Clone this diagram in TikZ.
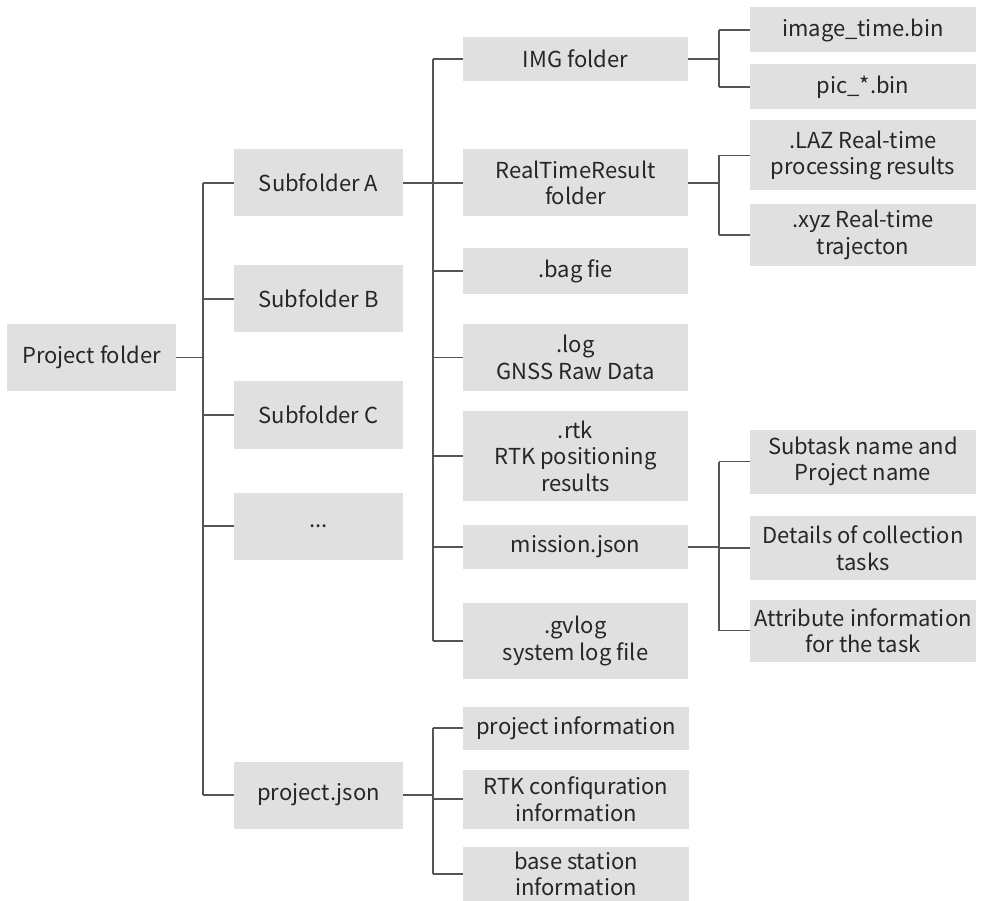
\documentclass[tikz,border=0pt]{standalone}
\usepackage{fontspec}
\setmainfont{Noto Sans CJK SC}
\definecolor{pfFill}{HTML}{E0E0E0}
\definecolor{pfLine}{HTML}{555555}
\definecolor{pfText}{HTML}{262626}
\begin{document}
\begin{tikzpicture}[x=1pt, y=-1pt,
    pfBox/.style={rectangle, fill=pfFill, text=pfText, inner sep=0pt, align=center,
      font=\fontsize{22}{26.5}\selectfont},
    pfL1/.style={pfBox, minimum width=169pt, minimum height=67pt},
    pfL2/.style={pfBox, minimum width=225pt},
    pfL3/.style={pfBox, minimum width=226pt},
    pfTree/.style={draw=pfLine, line width=1.2pt},
]
\useasboundingbox (0,0) rectangle (983,901);
% Root and first level
\node[pfL1] (proj) at (91.5,357.5) {Project folder};
\node[pfL1] (subA) at (318.5,183) {Subfolder A};
\node[pfL1] (subB) at (318.5,299) {Subfolder B};
\node[pfL1] (subC) at (318.5,415) {Subfolder C};
\node[pfL1] (dots) at (318.5,526) {...};
\node[pfL1] (pjson) at (318.5,795) {project.json};
% Contents of Subfolder A
\node[pfL2, minimum height=44pt] (img) at (575.5,59) {IMG folder};
\node[pfL2, minimum height=67pt] (rtr) at (575.5,183) {RealTimeResult\\folder};
\node[pfL2, minimum height=46pt] (bag) at (575.5,271) {.bag fie};
\node[pfL2, minimum height=67pt] (glog) at (575.5,357.5) {.log\\GNSS Raw Data};
\node[pfL2, minimum height=90pt] (rtk) at (575.5,456) {.rtk\\RTK positioning\\results};
\node[pfL2, minimum height=44pt] (miss) at (575.5,547) {mission.json};
\node[pfL2, minimum height=76pt] (gvlog) at (575.5,641) {.gvlog\\system log file};
% Third level
\node[pfL3, minimum height=45pt] (imgt) at (863,30) {image\_time.bin};
\node[pfL3, minimum height=45pt] (pic) at (863,87) {pic\_*.bin};
\node[pfL3, minimum height=70pt] (laz) at (863,155.5) {.LAZ Real-time\\processing results};
\node[pfL3, minimum height=62pt] (xyz) at (863,235) {.xyz Real-time\\trajecton};
\node[pfL3, minimum height=64pt] (subt) at (863,461.5) {Subtask name and\\Project name};
\node[pfL3, minimum height=64pt] (det) at (863,548) {Details of collection\\tasks};
\node[pfL3, minimum height=62pt] (attr) at (863,630.5) {Attribute information\\for the task};
% Contents of project.json
\node[pfL3, minimum height=43pt] (pinf) at (576,728) {project information};
\node[pfL3, minimum height=59pt] (rtkc) at (576,799) {RTK confiquration\\information};
\node[pfL3, minimum height=54pt] (bsta) at (576,874) {base station\\information};
% Trunk lines
\coordinate (tk1) at (203,0);
\coordinate (tk2) at (433,0);
\coordinate (tk3) at (719,0);
\draw[pfTree] (proj.east) -- (tk1 |- proj.east);
\draw[pfTree] (tk1 |- subA.west) -- (tk1 |- pjson.west);
\foreach \n in {subA,subB,subC,dots,pjson}
  \draw[pfTree] (tk1 |- \n.west) -- (\n.west);
\draw[pfTree] (subA.east) -- (tk2 |- subA.east);
\draw[pfTree] (tk2 |- img.west) -- (tk2 |- gvlog.west);
\foreach \n in {img,rtr,bag,glog,rtk,miss,gvlog}
  \draw[pfTree] (tk2 |- \n.west) -- (\n.west);
\draw[pfTree] (img.east) -- (tk3 |- img.east);
\draw[pfTree] (tk3 |- imgt.west) -- (tk3 |- pic.west);
\draw[pfTree] (rtr.east) -- (tk3 |- rtr.east);
\draw[pfTree] (tk3 |- laz.west) -- (tk3 |- xyz.west);
\draw[pfTree] (miss.east) -- (tk3 |- miss.east);
\draw[pfTree] (tk3 |- subt.west) -- (tk3 |- attr.west);
\foreach \n in {imgt,pic,laz,xyz,subt,det,attr}
  \draw[pfTree] (tk3 |- \n.west) -- (\n.west);
\draw[pfTree] (pjson.east) -- (tk2 |- pjson.east);
\draw[pfTree] (tk2 |- pinf.west) -- (tk2 |- bsta.west);
\foreach \n in {pinf,rtkc,bsta}
  \draw[pfTree] (tk2 |- \n.west) -- (\n.west);
\end{tikzpicture}
\end{document}
